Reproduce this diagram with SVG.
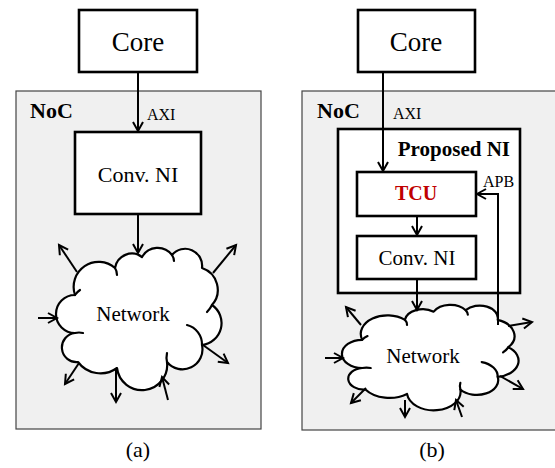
<svg xmlns="http://www.w3.org/2000/svg" xmlns:xlink="http://www.w3.org/1999/xlink" width="555" height="468" viewBox="0 0 555 468">
  <style>
    text { font-family: "Times New Roman", "Liberation Serif", Tinos, "Noto Serif", serif; fill: #000; }
    .noc { fill: #f0f0f0; stroke: #444; stroke-width: 1.2; }
    .box { fill: #fff; stroke: #000; stroke-width: 2.6; }
    .wire { fill: none; stroke: #000; stroke-width: 2; }
    .arr { marker-end: url(#head); }
    .cloud { fill: #fff; stroke: #000; stroke-width: 2.2; vector-effect: non-scaling-stroke; stroke-linejoin: round; }
    .curl { fill: none; stroke: #000; stroke-width: 2.2; vector-effect: non-scaling-stroke; stroke-linecap: round; }
    .big { font-size: 27px; }
    .mid { font-size: 21px; }
    .small { font-size: 16px; }
    .title { font-size: 22px; font-weight: bold; }
    .cap { font-size: 22px; }
  </style>
  <defs>
    <marker id="head" markerUnits="userSpaceOnUse" markerWidth="14" markerHeight="14" viewBox="-11 -7 13 14" refX="0" refY="0" orient="auto">
      <path d="M-9,-5 L0,0 L-9,5" fill="none" stroke="#000" stroke-width="2"/>
    </marker>
    <!-- cloud outline in local units (163 x 139) -->
    <g id="cloud">
      <path class="cloud" d="M18,85 A19,19 0 0 1 18,47 A25,25 0 0 1 58,20 A17,17 0 0 1 85,9 A18,18 0 0 1 115,7 A17,17 0 0 1 145,20 A23,23 0 0 1 155,57 A22,22 0 0 1 145,97 A20,20 0 0 1 110,114 A25,25 0 0 1 60,120 A28,28 0 0 1 21,114 A14.5,14.5 0 0 1 18,85 Z"/>
      <path class="curl" d="M130,77 A20,20 0 0 1 145,97"/>
      <path class="curl" d="M18,85 Q22,84 26,85"/>
      <path class="curl" d="M58,20 Q60,23 60,27"/>
      <path class="curl" d="M115,7 Q117,10 117,13"/>
      <path class="curl" d="M155,57 Q153,61 150,64"/>
      <path class="curl" d="M110,114 Q109,110 110,105"/>
      <path class="curl" d="M18,47 Q20,44 23,42"/>
    </g>
  </defs>

  <!-- (a) conventional interface -->
  <g id="noc-a">
    <rect class="noc" x="16" y="91" width="245" height="338"/>
    <text class="title" x="30" y="118">NoC</text>
  </g>
  <g id="core-a">
    <rect class="box" x="79" y="10" width="118" height="62"/>
    <text class="big" x="138" y="51" text-anchor="middle">Core</text>
  </g>
  <g id="convni-a">
    <rect class="box" x="75" y="132" width="126" height="82"/>
    <text class="mid" x="138" y="182" text-anchor="middle" style="font-size:22px">Conv. NI</text>
  </g>
  <g id="network-a">
    <use xlink:href="#cloud" transform="translate(57,248)"/>
    <text class="mid" x="133" y="321" text-anchor="middle">Network</text>
  </g>
  <text class="cap" x="138" y="457" text-anchor="middle">(a)</text>

  <!-- (b) proposed interface -->
  <g id="noc-b">
    <rect class="noc" x="302" y="91" width="260" height="339"/>
    <text class="title" x="317" y="118">NoC</text>
  </g>
  <g id="core-b">
    <rect class="box" x="358" y="10" width="117" height="62"/>
    <text class="big" x="416" y="51" text-anchor="middle">Core</text>
  </g>
  <g id="proposed-ni">
    <rect class="box" x="338" y="129" width="182" height="164"/>
    <text class="title" x="510" y="156" text-anchor="end" style="font-size:21px">Proposed NI</text>
  </g>
  <g id="tcu">
    <rect class="box" x="357" y="172" width="119" height="44"/>
    <text x="416" y="200" text-anchor="middle" style="font-size:20px;font-weight:bold;fill:#c00000">TCU</text>
  </g>
  <g id="convni-b">
    <rect class="box" x="357" y="236" width="119" height="43"/>
    <text class="mid" x="417" y="265" text-anchor="middle">Conv. NI</text>
  </g>
  <g id="network-b">
    <use xlink:href="#cloud" transform="translate(343,305) scale(1.067,0.741)"/>
    <text class="mid" x="423" y="363" text-anchor="middle">Network</text>
  </g>
  <text class="cap" x="432" y="457" text-anchor="middle">(b)</text>

  <g id="connectors">
    <!-- (a) -->
    <line class="wire arr" x1="138" y1="72" x2="138" y2="131"/>
    <text class="small" x="147" y="120">AXI</text>
    <line class="wire arr" x1="138" y1="214" x2="138" y2="253"/>
    <line class="wire arr" x1="77" y1="272" x2="59" y2="245"/>
    <line class="wire arr" x1="213" y1="273" x2="236" y2="245"/>
    <line class="wire arr" x1="38" y1="318" x2="57" y2="318"/>
    <line class="wire arr" x1="203" y1="345" x2="228" y2="363"/>
    <line class="wire arr" x1="79" y1="363" x2="65" y2="384"/>
    <line class="wire arr" x1="116" y1="370" x2="116" y2="402"/>
    <line class="wire arr" x1="168" y1="400" x2="162" y2="377"/>
    <!-- (b) -->
    <line class="wire arr" x1="383" y1="72" x2="383" y2="171"/>
    <text class="small" x="393" y="119">AXI</text>
    <line class="wire arr" x1="417" y1="216" x2="417" y2="235"/>
    <line class="wire arr" x1="417" y1="279" x2="417" y2="310"/>
    <polyline class="wire arr" points="498,325 498,194 477,194"/>
    <text class="small" x="483" y="187">APB</text>
    <line class="wire arr" x1="361" y1="325" x2="346" y2="307"/>
    <line class="wire arr" x1="508" y1="326" x2="532" y2="322"/>
    <line class="wire arr" x1="325" y1="358" x2="343" y2="358"/>
    <line class="wire arr" x1="500" y1="376" x2="523" y2="389"/>
    <line class="wire arr" x1="366" y1="388" x2="351" y2="403"/>
    <line class="wire arr" x1="405" y1="400" x2="405" y2="417"/>
    <line class="wire arr" x1="462" y1="417" x2="456" y2="400"/>
  </g>
</svg>
